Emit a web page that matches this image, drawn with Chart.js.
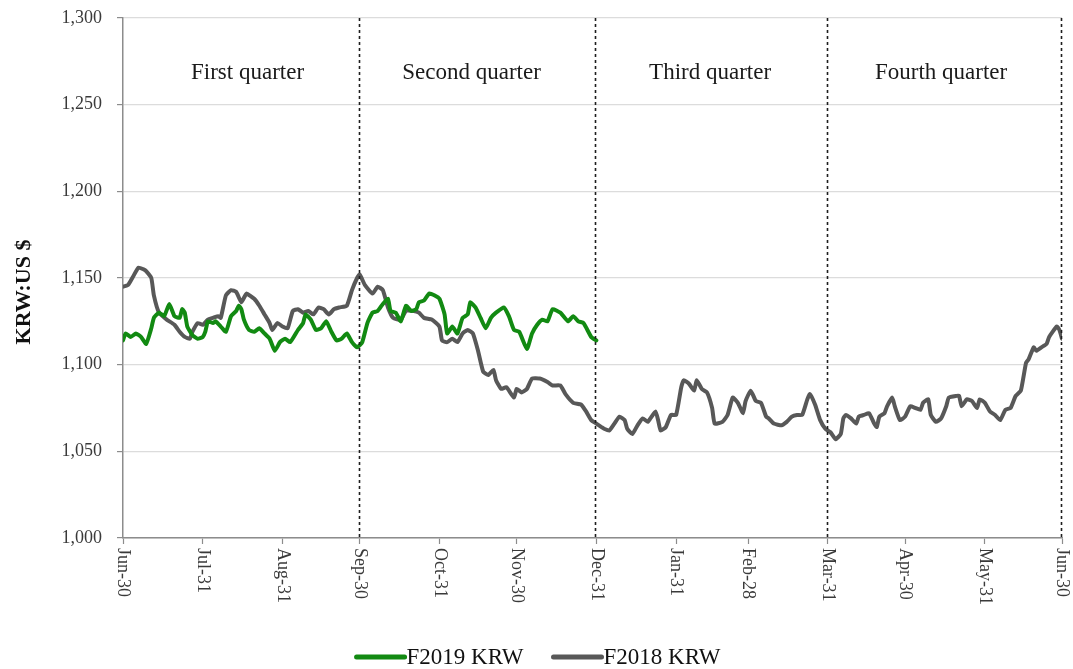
<!DOCTYPE html>
<html>
<head>
<meta charset="utf-8">
<script src="https://cdn.jsdelivr.net/npm/chart.js@4.4.1/dist/chart.umd.min.js"></script>
<style>
html,body{margin:0;padding:0;background:#fff;}
#wrap{width:1073px;height:669px;}
</style>
</head>
<body>
<div id="wrap"><canvas id="c" width="1073" height="669"></canvas></div>
<script>
// ---- data ----
const tickDays = [0,31,62,92,123,153,184,215,243,274,304,335,365];
const tickLabels = ['Jun-30','Jul-31','Aug-31','Sep-30','Oct-31','Nov-30','Dec-31','Jan-31','Feb-28','Mar-31','Apr-30','May-31','Jun-30'];
const yTicks = [1000,1050,1100,1150,1200,1250,1300];
const quarterBounds = [92,184,274,365];
const quarterLabels = ['First quarter','Second quarter','Third quarter','Fourth quarter'];
const quarterLabelDays = [48.4,135.5,228.2,318];
const seriesLabels = ['F2019 KRW','F2018 KRW'];
const yTitle = 'KRW:US $';

const days2019 = [0,1,3,5,7,9,11,12,14,16,
  18,20,22,23,24,25,27,29,31,32,
  33,35,36,38,40,42,44,45,46,47,
  49,51,53,55,57,59,61,63,65,68,
  70,71,73,75,77,79,81,83,85,87,
  89,91,93,95,97,99,101,103,104,106,
  108,110,112,114,115,117,119,121,123,125,
  126,128,130,132,134,135,137,139,141,143,
  145,148,150,152,154,157,159,161,163,165,
  167,170,173,175,177,179,182,184];
const krw2019 = [1114,1118,1116,1118,1116,1112,1121,1127,1130,1128,
  1135,1128,1127,1132,1130,1122,1117,1115,1116,1119,
  1125,1124,1125,1122,1119,1128,1131,1134,1132,1126,
  1120,1119,1121,1118,1115,1108,1113,1115,1113,1120,
  1124,1129,1126,1120,1121,1125,1119,1114,1115,1118,
  1113,1110,1113,1124,1130,1131,1135,1138,1131,1130,
  1125,1134,1131,1132,1136,1137,1141,1140,1138,1129,
  1118,1122,1118,1127,1129,1136,1133,1127,1121,1127,
  1130,1133,1128,1120,1119,1109,1118,1123,1126,1125,
  1132,1130,1125,1128,1125,1124,1116,1114];

const days2018 = [0,2,4,6,8,9,11,12,14,17,
  20,22,24,26,27,29,31,33,35,37,
  38,40,42,44,46,48,51,53,55,57,
  58,60,62,64,66,68,70,72,74,76,
  78,80,82,84,87,89,91,92,94,97,
  99,101,103,105,108,110,113,115,117,120,
  123,124,126,128,130,132,134,136,138,140,
  142,144,145,147,149,152,153,155,157,159,
  162,165,167,170,172,175,178,180,182,184,
  186,187,189,191,193,195,196,198,200,202,
  204,205,207,208,209,211,213,215,217,218,
  220,222,223,225,227,229,230,233,235,237,
  239,241,242,244,246,248,250,251,253,256,
  258,260,262,264,266,267,269,271,273,275,
  277,279,280,281,283,285,286,288,290,292,
  293,294,296,297,299,300,302,304,306,308,
  310,311,313,314,316,318,320,321,324,325,
  326,328,330,332,333,335,337,339,341,343,
  345,347,349,351,352,354,355,357,359,360,
  363,364,365];
const krw2018 = [1145,1146,1151,1156,1155,1154,1150,1140,1130,1126,
  1123,1119,1116,1115,1119,1124,1123,1126,1127,1128,
  1127,1140,1143,1142,1136,1141,1138,1134,1129,1124,
  1120,1124,1122,1121,1131,1132,1130,1131,1129,1133,
  1132,1129,1132,1133,1134,1143,1150,1152,1146,1141,
  1145,1143,1133,1127,1126,1131,1131,1130,1127,1126,
  1122,1114,1113,1115,1113,1118,1120,1118,1108,1096,
  1094,1097,1091,1086,1087,1081,1086,1084,1086,1092,
  1092,1090,1088,1088,1083,1078,1077,1073,1068,1066,
  1064,1063,1062,1066,1070,1068,1063,1060,1065,1069,
  1067,1069,1073,1068,1062,1064,1071,1071,1087,1091,
  1089,1085,1091,1086,1084,1075,1066,1067,1071,1081,
  1078,1072,1079,1085,1079,1078,1070,1069,1066,1065,
  1067,1070,1071,1071,1080,1083,1077,1068,1063,1061,
  1057,1060,1069,1071,1069,1066,1070,1071,1072,1066,
  1064,1070,1072,1076,1081,1076,1068,1070,1076,1075,
  1074,1078,1080,1071,1067,1069,1076,1081,1082,1082,
  1076,1080,1079,1075,1080,1078,1073,1071,1068,1074,
  1075,1082,1085,1101,1103,1110,1108,1110,1112,1116,
  1122,1120,1115];

// ---- styles ----
const SERIF = '"Liberation Serif", "Times New Roman", serif';
const GREEN = '#128a12';
const GREY = '#585858';
const quarterLabelBaseline = 1265;

const toPts = (xs, ys) => xs.map((d, i) => ({x: d, y: ys[i]}));

const overlay = {
  id: 'overlay',
  afterDatasetsDraw(chart) {
    const {ctx, chartArea: a, scales: {x}} = chart;
    ctx.save();
    ctx.strokeStyle = '#1e1e1e';
    ctx.lineWidth = 1.6;
    ctx.setLineDash([3, 3]);
    quarterBounds.forEach(d => {
      const px = Math.round(x.getPixelForValue(d)) - 0.5;
      ctx.beginPath();
      ctx.moveTo(px, a.top);
      ctx.lineTo(px, a.bottom);
      ctx.stroke();
    });
    ctx.restore();
  },
  afterDraw(chart) {
    const {ctx, chartArea: a, scales: {x, y}} = chart;
    ctx.save();
    // quarter labels
    ctx.fillStyle = '#1a1a1a';
    ctx.font = '23px ' + SERIF;
    ctx.textAlign = 'center';
    ctx.textBaseline = 'alphabetic';
    quarterLabels.forEach((t, i) => {
      ctx.fillText(t, x.getPixelForValue(quarterLabelDays[i]), y.getPixelForValue(quarterLabelBaseline));
    });
    // x tick labels (rotated clockwise)
    ctx.fillStyle = '#3a3a3a';
    ctx.font = '18px ' + SERIF;
    ctx.textAlign = 'left';
    ctx.textBaseline = 'middle';
    tickDays.forEach((d, i) => {
      ctx.save();
      ctx.translate(x.getPixelForValue(d), a.bottom + 10);
      ctx.rotate(Math.PI / 2);
      ctx.fillText(tickLabels[i], 0, 0);
      ctx.restore();
    });
    // y title
    ctx.save();
    ctx.fillStyle = '#111';
    ctx.font = 'bold 22px ' + SERIF;
    ctx.textAlign = 'center';
    ctx.textBaseline = 'middle';
    ctx.translate(24, (a.top + a.bottom) / 2 + 14);
    ctx.rotate(-Math.PI / 2);
    ctx.fillText(yTitle, 0, 0);
    ctx.restore();
    // legend
    ctx.font = '23px ' + SERIF;
    ctx.textBaseline = 'middle';
    ctx.textAlign = 'left';
    const ly = 657;
    const lineW = 50, gap1 = 2, gap2 = 28;
    const ds = chart.data.datasets;
    const widths = ds.map(d => ctx.measureText(d.label).width);
    const total = ds.reduce((s, d, i) => s + lineW + gap1 + widths[i], 0) + gap2 * (ds.length - 1);
    let lx = (a.left + a.right) / 2 - total / 2 - 55;
    ds.forEach((d, i) => {
      ctx.strokeStyle = d.borderColor;
      ctx.lineWidth = 5;
      ctx.lineCap = 'round';
      ctx.beginPath();
      ctx.moveTo(lx + 2, ly);
      ctx.lineTo(lx + lineW, ly);
      ctx.stroke();
      ctx.fillStyle = '#111';
      ctx.fillText(d.label, lx + lineW + gap1, ly + 1);
      lx += lineW + gap1 + widths[i] + gap2;
    });
    ctx.restore();
  }
};

new Chart(document.getElementById('c'), {
  type: 'line',
  data: {
    datasets: [
      {label: seriesLabels[0], data: toPts(days2019, krw2019), borderColor: GREEN, backgroundColor: GREEN,
       borderWidth: 4, pointRadius: 0, tension: 0.15, borderJoinStyle: 'round', borderCapStyle: 'round'},
      {label: seriesLabels[1], data: toPts(days2018, krw2018), borderColor: GREY, backgroundColor: GREY,
       borderWidth: 4, pointRadius: 0, tension: 0.15, borderJoinStyle: 'round', borderCapStyle: 'round'}
    ]
  },
  options: {
    responsive: false,
    animation: false,
    devicePixelRatio: 1,
    layout: {padding: {left: 0, right: 11, top: 18, bottom: 0}},
    plugins: {legend: {display: false}, tooltip: {enabled: false}},
    scales: {
      x: {
        type: 'linear',
        min: 0, max: 365,
        afterBuildTicks: s => { s.ticks = tickDays.map(v => ({value: v})); },
        afterFit: s => { s.height = 131; s.paddingLeft = 0; s.paddingRight = 0; },
        ticks: {display: false},
        grid: {drawOnChartArea: false, drawTicks: true, tickLength: 6, tickColor: '#8c8c8c', tickWidth: 1.2},
        border: {color: '#8c8c8c', width: 1.5}
      },
      y: {
        min: 1000, max: 1300,
        afterBuildTicks: s => { s.ticks = yTicks.map(v => ({value: v})); },
        afterFit: s => { s.width = 123; s.paddingTop = 0; s.paddingBottom = 0; },
        ticks: {
          padding: 15,
          color: '#3a3a3a',
          font: {family: SERIF, size: 18},
          callback: v => v.toLocaleString('en-US')
        },
        grid: {color: '#dcdcdc', lineWidth: 1.2, drawTicks: true, tickLength: 6, tickColor: '#8c8c8c'},
        border: {color: '#8c8c8c', width: 1.5}
      }
    }
  },
  plugins: [overlay]
});
</script>
</body>
</html>
